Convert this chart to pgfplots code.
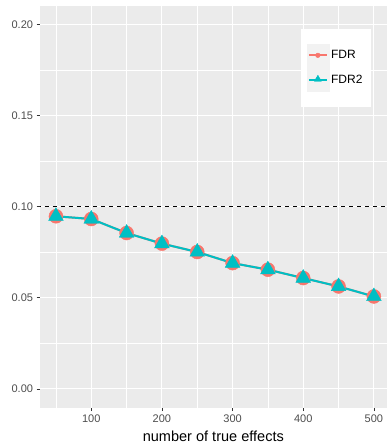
\documentclass[border=0pt]{standalone}
\usepackage{pgfplots}
\pgfplotsset{compat=1.18}
\usepackage{fontspec}
\setmainfont{Liberation Sans}
\definecolor{panel}{HTML}{EBEBEB}
\definecolor{keybg}{HTML}{F2F2F2}
\definecolor{fdr}{HTML}{F8766D}
\definecolor{fdrtwo}{HTML}{00BFC4}
\definecolor{ticklab}{HTML}{4D4D4D}
\definecolor{tickcol}{HTML}{333333}
\begin{document}
\begin{tikzpicture}
\begin{axis}[
  name=ax,
  scale only axis, width=346pt, height=400.7pt,
  xmin=27.5, xmax=518, ymin=-0.0103, ymax=0.2099,
  axis background/.style={fill=panel},
  axis line style={draw=none},
  xtick={100,200,300,400,500},
  minor xtick={50,150,250,350,450},
  ytick={0,0.05,0.1,0.15,0.2},
  minor ytick={0.025,0.075,0.125,0.175},
  yticklabel style={/pgf/number format/.cd,fixed,fixed zerofill,precision=2},
  /pgf/number format/assume math mode=true,
  scaled y ticks=false,
  tick label style={font=\fontsize{11}{12}\selectfont, text=ticklab},
  major tick length=3.5pt, minor tick length=0pt,
  tick align=outside,
  xtick pos=bottom, ytick pos=left,
  major tick style={draw=tickcol, line width=0.6pt},
  grid=both,
  major grid style={draw=white, line width=1.1pt},
  minor grid style={draw=white, line width=0.55pt},
  xlabel={number of true effects},
  xlabel style={font=\fontsize{14.5}{15}\selectfont, yshift=-2pt},
  legend style={at={(0.7514,0.945)}, anchor=north west, draw=none, fill=white,
    font=\fontsize{12}{13}\selectfont, inner xsep=6pt, inner ysep=15pt,
    row sep=1pt, cells={anchor=west}},
  legend cell align=left,
]
\addlegendimage{legend image code/.code={
  \fill[keybg] (0pt,-11.5pt) rectangle (22pt,11.5pt);
  \draw[fdr, line width=2pt] (2pt,0pt) -- (20pt,0pt);
  \fill[fdr] (11pt,0pt) circle (2.3pt);}}
\addlegendentry{FDR}
\addlegendimage{legend image code/.code={
  \fill[keybg] (0pt,-11.5pt) rectangle (22pt,11.5pt);
  \draw[fdrtwo, line width=2pt] (2pt,0pt) -- (20pt,0pt);
  \fill[fdrtwo] (7.5pt,-1.5pt) -- (14.5pt,-1.5pt) -- (11pt,4.5pt) -- cycle;}}
\addlegendentry{FDR2}
\addplot[black, line width=0.9pt, dash pattern=on 4pt off 4pt, forget plot] coordinates {(0,0.1) (600,0.1)};
\addplot[fdr, line width=2pt, forget plot] coordinates {
(50,0.0947) (100,0.0932) (150,0.0855) (200,0.0797) (250,0.0751) (300,0.0690) (350,0.0654) (400,0.0608) (450,0.0562) (500,0.0507)};
\addplot[fdrtwo, line width=2pt, forget plot] coordinates {
(50,0.0947) (100,0.0932) (150,0.0855) (200,0.0797) (250,0.0751) (300,0.0690) (350,0.0654) (400,0.0608) (450,0.0562) (500,0.0507)};
\addplot[only marks, mark=*, mark size=7pt, mark options={fill=fdr,draw=fdr}, forget plot] coordinates {
(50,0.0947) (100,0.0932) (150,0.0855) (200,0.0797) (250,0.0751) (300,0.0690) (350,0.0654) (400,0.0608) (450,0.0562) (500,0.0507)};
\addplot[only marks, mark=triangle*, mark size=8.5pt, mark options={fill=fdrtwo,draw=fdrtwo}, forget plot] coordinates {
(50,0.0947) (100,0.0932) (150,0.0855) (200,0.0797) (250,0.0751) (300,0.0690) (350,0.0654) (400,0.0608) (450,0.0562) (500,0.0507)};
\end{axis}
\pgfresetboundingbox
\useasboundingbox ([shift={(-40pt,-38.3pt)}]ax.south west) rectangle ([shift={(0pt,6.3pt)}]ax.north east);
\end{tikzpicture}
\end{document}
